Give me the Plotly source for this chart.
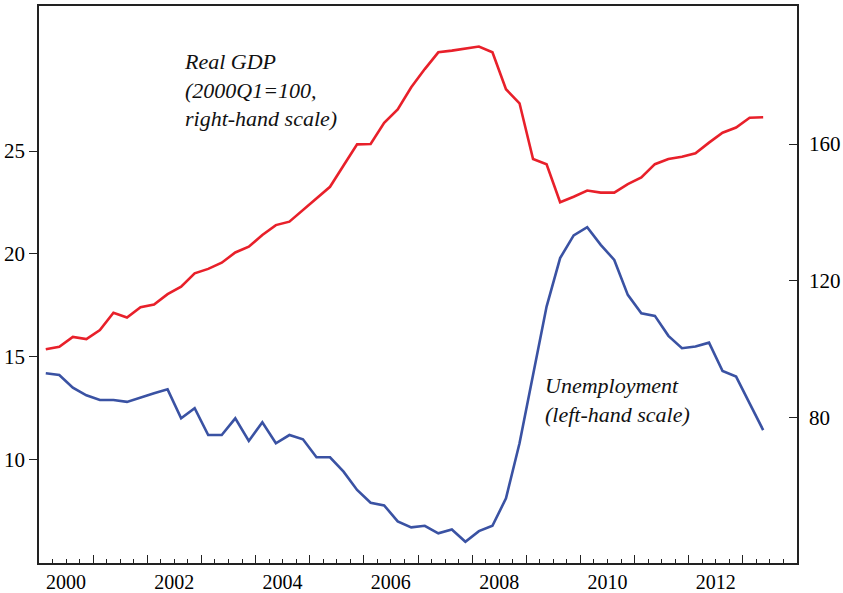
import plotly.graph_objects as go

# Quarterly periods 2000Q1 .. 2013Q2
quarters = [f"{y}Q{q}" for y in range(2000, 2014) for q in range(1, 5)][:54]

unemployment = [
    14.20, 14.12, 13.50, 13.13, 12.90, 12.90, 12.81, 13.03, 13.23, 13.42,
    12.01, 12.50, 11.20, 11.20, 12.01, 10.91, 11.82, 10.80, 11.20, 10.99,
    10.12, 10.12, 9.42, 8.53, 7.91, 7.78, 7.00, 6.71, 6.79, 6.42,
    6.61, 6.01, 6.53, 6.79, 8.12, 10.80, 14.12, 17.44, 19.80, 20.90,
    21.30, 20.44, 19.71, 18.01, 17.12, 16.99, 16.02, 15.42, 15.50, 15.69,
    14.31, 14.04, 12.74, 11.44,
]

real_gdp = [
    100.0, 100.7, 103.6, 103.0, 105.6, 110.7, 109.3, 112.3, 113.1, 116.1,
    118.3, 122.2, 123.5, 125.3, 128.3, 130.0, 133.4, 136.3, 137.3, 140.7,
    144.2, 147.5, 153.7, 159.9, 160.0, 166.2, 170.1, 176.6, 181.9, 186.8,
    187.3, 187.9, 188.5, 186.8, 176.0, 171.9, 155.6, 154.1, 143.0, 144.6,
    146.4, 145.8, 145.8, 148.3, 150.2, 154.1, 155.6, 156.3, 157.3, 160.4,
    163.3, 164.8, 167.7, 167.8,
]

left_ticks = [10, 15, 20, 25]
right_ticks = [80, 120, 160]
year_ticks = list(range(2000, 2014))
year_labels = [str(y) if y % 2 == 0 else "" for y in year_ticks]

x = [int(q[:4]) + (int(q[5]) - 0.5) / 4 for q in quarters]

FONT = "Liberation Serif"
RED = "#E8202A"
BLUE = "#3A52A3"
TICKFONT = dict(family=FONT, size=21, color="black")

fig = go.Figure()
fig.add_trace(go.Scatter(x=x, y=unemployment, mode="lines",
                         line=dict(color=BLUE, width=2.6), yaxis="y",
                         hoverinfo="skip"))
fig.add_trace(go.Scatter(x=x, y=real_gdp, mode="lines",
                         line=dict(color=RED, width=2.6), yaxis="y2",
                         hoverinfo="skip"))

fig.update_layout(
    width=843, height=593,
    margin=dict(l=39, r=46, t=6, b=30, autoexpand=False),
    paper_bgcolor="white", plot_bgcolor="white",
    showlegend=False,
    font=dict(family=FONT, size=21, color="black"),
    xaxis=dict(
        range=[2000, 2014], showgrid=False, zeroline=False, automargin=False,
        showline=True, linecolor="#222", linewidth=1.5, mirror=True,
        tickmode="array", tickvals=year_ticks, ticktext=year_labels,
        ticks="inside", ticklen=8, tickwidth=1.2, tickcolor="#222",
        ticklabelshift=27, ticklabelstandoff=0,
        minor=dict(dtick=0.25, tick0=2000, ticks="inside", ticklen=4.5,
                   tickwidth=1.2, tickcolor="#222", showgrid=False),
        tickfont=dict(family=FONT, size=20, color="black"),
    ),
    yaxis=dict(
        range=[4.98, 32.05], showgrid=False, zeroline=False, automargin=False,
        showline=True, linecolor="#222", linewidth=1.5,
        tickmode="array", tickvals=left_ticks,
        ticks="outside", ticklen=8, tickwidth=1.2, tickcolor="#222",
        tickfont=TICKFONT,
    ),
    yaxis2=dict(
        range=[37.53, 200.34], overlaying="y", side="right", automargin=False,
        showgrid=False, zeroline=False,
        showline=True, linecolor="#222", linewidth=1.5,
        tickmode="array", tickvals=right_ticks,
        ticks="inside", ticklen=8, tickwidth=1.2, tickcolor="#222",
        ticklabelstandoff=6,
        tickfont=TICKFONT,
    ),
    annotations=[
        dict(text="<i>Real GDP<br>(2000Q1=100,<br>right-hand scale)</i>",
             xref="x", yref="paper", x=2002.65, y=0.849,
             xanchor="left", yanchor="middle", align="left",
             showarrow=False, font=dict(family=FONT, size=22, color="#111")),
        dict(text="<i>Unemployment<br>(left-hand scale)</i>",
             xref="x", yref="paper", x=2009.31, y=0.293,
             xanchor="left", yanchor="middle", align="left",
             showarrow=False, font=dict(family=FONT, size=22, color="#111")),
    ],
)

fig.write_html(
    "out.html",
    config={"displayModeBar": False},
    post_script="document.body.style.margin='0';document.body.style.overflow='hidden';",
)
